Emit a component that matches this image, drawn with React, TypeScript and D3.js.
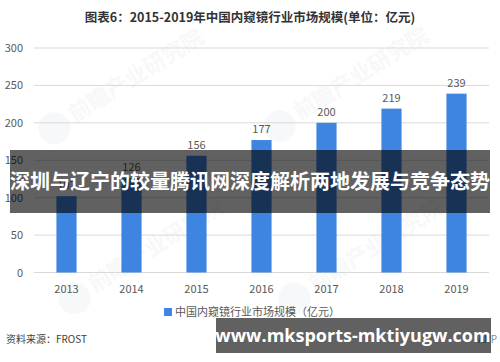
import * as d3 from 'd3'

const years = ['2013', '2014', '2015', '2016', '2017', '2018', '2019']
const marketSize = [102, 126, 156, 177, 200, 219, 239]
const yTicks = [0, 50, 100, 150, 200, 250, 300]

const title = '图表6：2015-2019年中国内窥镜行业市场规模(单位：亿元)'
const legendLabel = '中国内窥镜行业市场规模（亿元）'
const sourceLabel = '资料来源：FROST'
const overlayText = '深圳与辽宁的较量腾讯网深度解析两地发展与竞争态势'
const urlText = 'www.mksports-mktiyugw.com'
const watermark = '前瞻产业研究院'

const font = '"Noto Sans CJK SC", "Noto Sans", sans-serif'

export default function App() {
  const width = 500
  const height = 362
  const margin = { left: 34, right: 11, top: 48, bottom: 89.5 }

  const x = d3.scaleBand<string>()
    .domain(years)
    .range([margin.left, width - margin.right])
    .paddingInner(0.69)
    .paddingOuter(0.345)

  const y = d3.scaleLinear()
    .domain([0, 300])
    .range([height - margin.bottom, margin.top])

  const bw = x.bandwidth()

  // faint watermark positions
  const marks = [
    { x: 105, y: 92 }, { x: 330, y: 90 }, { x: 125, y: 262 }, { x: 345, y: 262 },
  ]

  return (
    <svg width={width} height={height} style={{ position: 'absolute', left: 0, top: 0, background: '#fff' }}
      fontFamily={font}>
      <rect width={width} height={height} fill="#fff" />

      {marks.map((m, i) => (
        <g key={i} transform={`translate(${m.x},${m.y}) rotate(-32)`} opacity={0.05}>
          <circle cx={-62} cy={4} r={16} fill="#6a7f9a" />
          <text x={-42} y={10} fontSize={22} fontWeight={700} fill="#6a7f9a">{watermark}</text>
        </g>
      ))}

      <text x={250} y={22} textAnchor="middle" fontSize={12.5} fontWeight={700} fill="#333">{title}</text>

      {yTicks.map(t => (
        <g key={t}>
          <line x1={margin.left} x2={width - margin.right} y1={y(t)} y2={y(t)} stroke="#d9d9d9" strokeWidth={1} />
          <text x={23} y={y(t) + 4} textAnchor="end" fontSize={11} fill="#595959">{t}</text>
        </g>
      ))}

      {years.map((yr, i) => (
        <g key={yr}>
          <rect x={x(yr)} y={y(marketSize[i])} width={bw} height={y(0) - y(marketSize[i])} fill="#3d85e0" />
          <text x={(x(yr) ?? 0) + bw / 2} y={y(marketSize[i]) - 7} textAnchor="middle" fontSize={11} fill="#595959">
            {marketSize[i]}
          </text>
          <text x={(x(yr) ?? 0) + bw / 2} y={y(0) + 20} textAnchor="middle" fontSize={11} fill="#595959">{yr}</text>
        </g>
      ))}

      {/* legend */}
      <rect x={164} y={308} width={8} height={8} fill="#3d85e0" />
      <text x={175} y={316} fontSize={11} fill="#595959">{legendLabel}</text>

      <text x={6} y={343} fontSize={10} fill="#404040">{sourceLabel}</text>
      <text x={497} y={343} textAnchor="end" fontSize={10} fill="#8a8a8a">APP</text>

      {/* overlay banners */}
      <rect x={10} y={150} width={480} height={63} fill="#000" opacity={0.62} />
      <text x={250} y={189} textAnchor="middle" fontSize={20} fontWeight={700} fill="#fff">{overlayText}</text>

      <rect x={216} y={318} width={275} height={35} fill="#000" opacity={0.62} />
      <text x={353} y={342} textAnchor="middle" fontSize={18} fontWeight={700} fill="#fff"
        fontFamily='"Open Sans", "DejaVu Sans", sans-serif'>{urlText}</text>
    </svg>
  )
}
